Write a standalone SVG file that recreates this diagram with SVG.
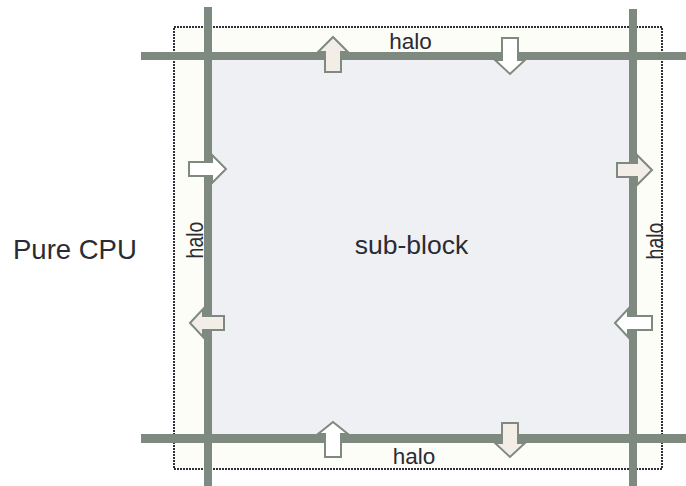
<svg xmlns="http://www.w3.org/2000/svg" width="686" height="486" viewBox="0 0 686 486">
<style>
.t{font-family:"Liberation Sans",Arial,sans-serif;fill:#2b2b33}
.bar{fill:#7e897f}
.arr{stroke:#7e897f;stroke-width:2;stroke-linejoin:miter}
.w{fill:#ffffff}
.b{fill:#f3ede7}
</style>
<rect width="686" height="486" fill="#ffffff"/>
<g id="halo-region">
<rect x="174" y="27" width="488" height="442" fill="#fdfdf8"/>
</g>
<g id="sub-block">
<rect x="208" y="56" width="425" height="382" fill="#eff0f3"/>
<text class="t" x="411.5" y="254" font-size="26.5" text-anchor="middle">sub-block</text>
</g>
<g id="border">
<rect x="174" y="27" width="488" height="442" fill="none" stroke="#2e2e3a" stroke-width="2" stroke-dasharray="2 1"/>
</g>
<g id="connectors">
<rect class="bar" x="141" y="52" width="545" height="8"/>
<rect class="bar" x="141" y="434" width="545" height="9"/>
<rect class="bar" x="204" y="7" width="8" height="479"/>
<rect class="bar" x="629" y="9" width="8" height="477"/>
<polygon class="arr b" points="333,37 348,52 341,52 341,72 325,72 325,52 318,52"/>
<polygon class="arr w" points="502,38 518,38 518,60 525,60 510,74 495,60 502,60"/>
<polygon class="arr w" points="189,162 212,162 212,155 226,169 212,183 212,176 189,176"/>
<polygon class="arr b" points="190,323 203,309 203,316 224,316 224,330 203,330 203,337"/>
<polygon class="arr b" points="617,163 637,163 637,155 652,170 637,185 637,177 617,177"/>
<polygon class="arr w" points="615,323 628,309 628,316 652,316 652,330 628,330 628,337"/>
<polygon class="arr w" points="333,422 348,434 341,434 341,457 325,457 325,434 318,434"/>
<polygon class="arr b" points="502,423 518,423 518,443 525,443 510,457 495,443 502,443"/>
</g>
<g id="labels">
<text class="t" x="13" y="259" font-size="27.5">Pure CPU</text>
<text class="t" x="410.5" y="49" font-size="22.5" text-anchor="middle">halo</text>
<text class="t" x="414" y="464" font-size="22.5" text-anchor="middle">halo</text>
<text class="t" font-size="24" text-anchor="middle" textLength="37" lengthAdjust="spacingAndGlyphs" transform="translate(203,240) rotate(-90)">halo</text>
<text class="t" font-size="24" text-anchor="middle" textLength="37" lengthAdjust="spacingAndGlyphs" transform="translate(663,241) rotate(-90)">halo</text>
</g>
</svg>
